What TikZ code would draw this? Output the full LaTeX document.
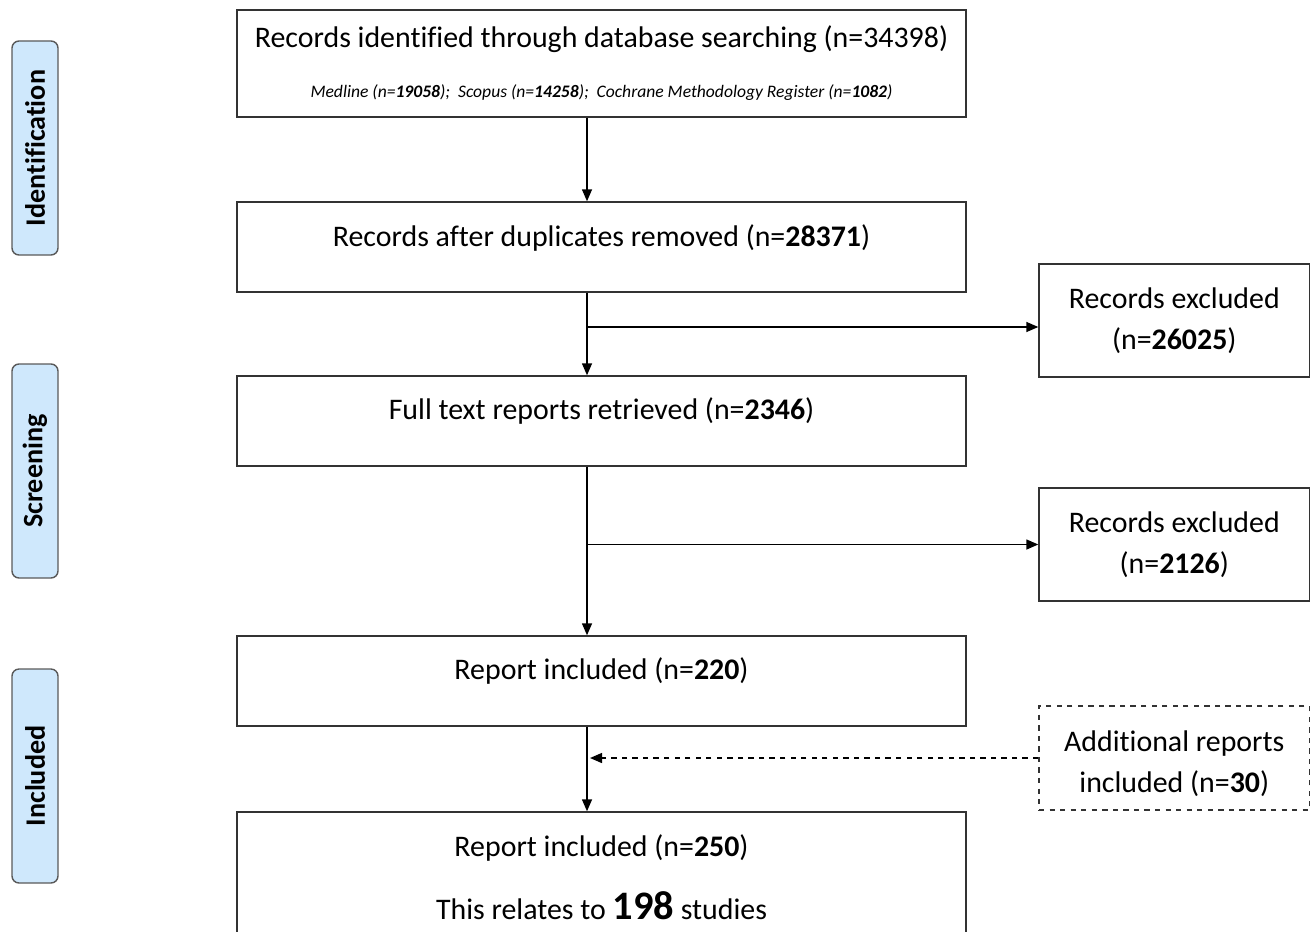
\documentclass[tikz,border=0pt]{standalone}
\usepackage{fontspec}
\setmainfont{Carlito}[Ligatures=NoCommon]
\usepackage{tikz}
\usetikzlibrary{arrows.meta, positioning}
\definecolor{stagefill}{HTML}{CFE8FC}
\definecolor{stageline}{HTML}{5A5A5A}
\tikzset{>={Triangle[length=2.4mm,width=2mm]}}
\tikzset{
  box/.style={draw=black!80, line width=0.8pt, minimum width=14.58cm, inner sep=0pt},
  sidebox/.style={draw=black!80, line width=0.8pt, minimum width=5.41cm, minimum height=2.26cm,
    align=center, font=\fontsize{17}{23.2}\selectfont},
  txt/.style={font=\fontsize{17}{20}\selectfont, inner sep=0pt},
  stage/.style={draw=stageline, fill=stagefill, rounded corners=4pt, rotate=90, line width=0.8pt,
    minimum width=4.28cm, minimum height=0.92cm, font=\fontsize{16}{19}\bfseries\selectfont},
  flow/.style={->, line width=0.8pt}
}

\begin{document}
\begin{tikzpicture}
    \useasboundingbox (0,0) rectangle (26.22,-18.62);
    \clip (0,0) rectangle (26.22,-18.62);

    % stages on the left
    \foreach \y/\name/\lbl in {-2.96/ident/Identification, -9.42/screen/Screening, -15.52/incl/Included}
    {\node (\name) at (0.70,\y) [stage] {\lbl};}

    % main column
    \node (b1) at (12.03,-1.27) [box, minimum height=2.14cm] {};
    \node (b2) at (12.03,-4.94) [box, minimum height=1.80cm] {};
    \node (b3) at (12.03,-8.42) [box, minimum height=1.80cm] {};
    \node (b4) at (12.03,-13.62) [box, minimum height=1.80cm] {};
    \node (b5) at (12.03,-17.54) [box, minimum height=2.60cm] {};

    \node (t1) at ([yshift=-0.60cm]b1.north) [txt] {Records identified through database searching (n=34398)};
    \node (s1) at ([yshift=-1.66cm]b1.north) [txt, font=\fontsize{10}{12}\itshape\selectfont]
      {Medline (n=\textbf{19058}); \ Scopus (n=\textbf{14258}); \ Cochrane Methodology Register (n=\textbf{1082})};
    \node (t2) at ([yshift=-0.74cm]b2.north) [txt] {Records after duplicates removed (n=\textbf{28371})};
    \node (t3) at ([yshift=-0.72cm]b3.north) [txt] {Full text reports retrieved (n=\textbf{2346})};
    \node (t4) at ([yshift=-0.72cm]b4.north) [txt] {Report included (n=\textbf{220})};
    \node (t5) at ([yshift=-0.74cm]b5.north) [txt] {Report included (n=\textbf{250})};
    \node (u5) at ([yshift=-1.88cm]b5.north) [txt] {This relates to {\fontsize{23}{26}\bfseries\selectfont 198} studies};

    % side boxes
    \node (ex1) at (23.485,-6.41) [sidebox] {Records excluded\\(n=\textbf{26025})};
    \node (ex2) at (23.485,-10.89) [sidebox] {Records excluded\\(n=\textbf{2126})};
    \node (add) at (23.485,-15.16) [sidebox, dashed, minimum height=2.08cm]
      {\rule{0pt}{0.65cm}Additional reports\\included (n=\textbf{30})};

    % arrows
    \coordinate (spine) at (11.74,0);
    \draw[flow] (b1.south -| spine) -- (b2.north -| spine);
    \draw[flow] (b2.south -| spine) -- (b3.north -| spine);
    \draw[flow] (b3.south -| spine) -- (b4.north -| spine);
    \draw[flow] (b4.south -| spine) -- (b5.north -| spine);
    \draw[flow] ([yshift=-0.13cm]ex1.west -| spine) -- ([yshift=-0.13cm]ex1.west);
    \draw[flow] (ex2.west -| spine) -- (ex2.west);
    \draw[flow, dashed] (add.west) -- ([xshift=0.06cm]add.west -| spine);

\end{tikzpicture}
\end{document}
